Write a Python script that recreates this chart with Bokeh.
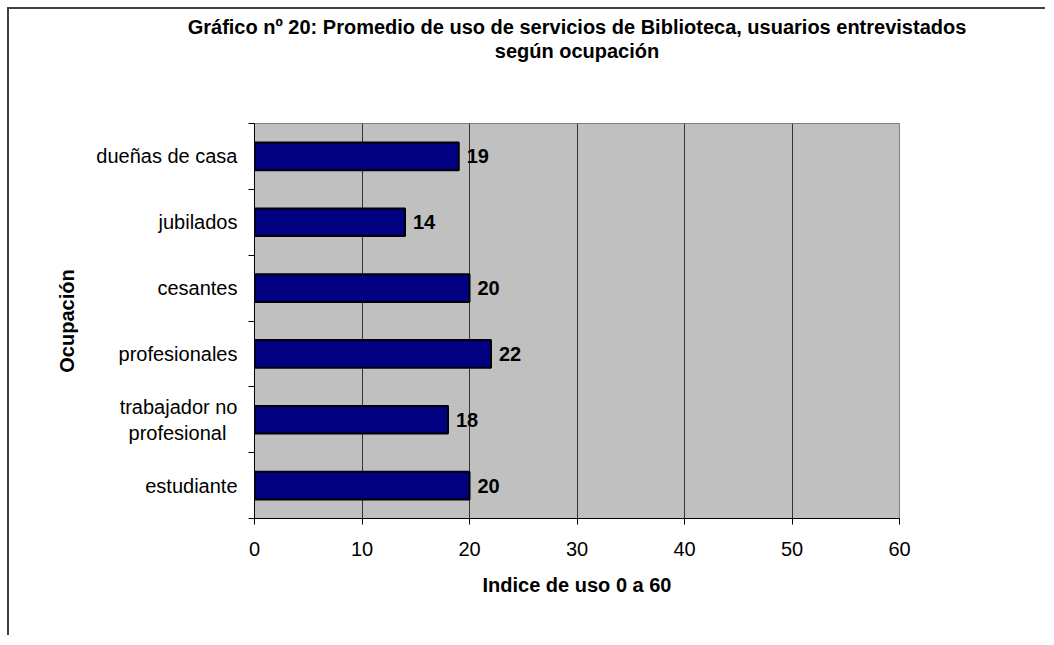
from bokeh.plotting import figure
from bokeh.models import (ColumnDataSource, Range1d, Title, LabelSet, FixedTicker, LinearAxis)
from bokeh.core.properties import value
from bokeh.embed import file_html
from bokeh.resources import INLINE

categories = ["estudiante", "trabajador no\nprofesional\u00a0\u00a0", "profesionales", "cesantes", "jubilados", "dueñas de casa"]
values = [20, 18, 22, 20, 14, 19]
x_ticks = [0, 10, 20, 30, 40, 50, 60]

FONT = "Liberation Sans"
FS = "20px"

n = len(categories)
centers = [i + 0.5 for i in range(n)]
boundaries = list(range(n + 1))

source = ColumnDataSource(dict(pos=centers, val=values, lab=[str(v) for v in values]))

p = figure(
    y_range=Range1d(0, n),
    x_range=Range1d(0, 60),
    frame_width=645, frame_height=395,
    min_border_left=245, min_border_right=146, min_border_top=0, min_border_bottom=117,
    output_backend="svg", toolbar_location=None,
)
p.styles = {"margin-left": "7px", "margin-top": "7px",
            "border-left": "2px solid #404040", "border-top": "2px solid #404040"}

p.background_fill_color = "#C0C0C0"
p.border_fill_color = "white"
p.outline_line_color = "#808080"
p.outline_line_width = 1

p.hbar(y="pos", right="val", height=0.42, source=source,
       fill_color="#000080", line_color="black", line_width=2)

labels = LabelSet(x="val", y="pos", text="lab", source=source, x_offset=8,
                  text_baseline="middle", text_font=value(FONT), text_font_size=FS,
                  text_font_style="bold", text_color="black")
p.add_layout(labels)

p.xaxis.ticker = FixedTicker(ticks=x_ticks)
p.xgrid.ticker = FixedTicker(ticks=x_ticks)
p.xgrid.grid_line_color = "#333333"
p.xgrid.grid_line_width = 1
p.ygrid.grid_line_color = None

p.xaxis.axis_label = "Indice de uso 0 a 60"
p.yaxis.axis_label = "Ocupación"
for ax in (p.xaxis[0], p.yaxis[0]):
    ax.axis_label_text_font = FONT
    ax.axis_label_text_font_size = FS
    ax.axis_label_text_font_style = "bold"
    ax.axis_label_text_color = "black"
    ax.major_label_text_font = FONT
    ax.major_label_text_font_size = FS
    ax.major_label_text_color = "black"
    ax.axis_line_color = "black"
    ax.axis_line_width = 1
    ax.major_tick_line_color = "black"
    ax.minor_tick_line_color = None

p.xaxis.major_tick_out = 6
p.xaxis.major_tick_in = 0
p.xaxis.major_label_standoff = 17
p.xaxis.axis_label_standoff = 15

cat_axis = p.yaxis[0]
cat_axis.ticker = FixedTicker(ticks=centers)
cat_axis.major_label_overrides = {c: name for c, name in zip(centers, categories)}
cat_axis.major_tick_line_color = None
cat_axis.axis_line_color = None
cat_axis.major_label_standoff = 5
cat_axis.axis_label_standoff = 15

tick_axis = LinearAxis(ticker=FixedTicker(ticks=boundaries),
                       major_label_text_font_size="0px", major_label_standoff=0,
                       major_tick_out=6, major_tick_in=0, minor_tick_line_color=None,
                       axis_line_color="black", major_tick_line_color="black")
tick_axis.major_label_overrides = {b: "" for b in boundaries}
p.left = [tick_axis] + list(p.left)

top_pad = Title(text=" ", text_font_size="2px", standoff=0)
spacer = Title(text=" ", text_font_size="54px", standoff=0)
t2 = Title(text="según ocupación", align="center", offset=-27, text_color="black",
           text_font=FONT, text_font_size=FS, text_font_style="bold", standoff=0)
t1 = Title(text="Gráfico nº 20: Promedio de uso de servicios de Biblioteca, usuarios entrevistados",
           align="center", offset=-27, text_color="black",
           text_font=FONT, text_font_size=FS, text_font_style="bold", standoff=0)
p.title = None
p.add_layout(spacer, "above")
p.add_layout(t2, "above")
p.add_layout(t1, "above")
p.add_layout(top_pad, "above")

open("out.html", "w").write(file_html(p, INLINE))
